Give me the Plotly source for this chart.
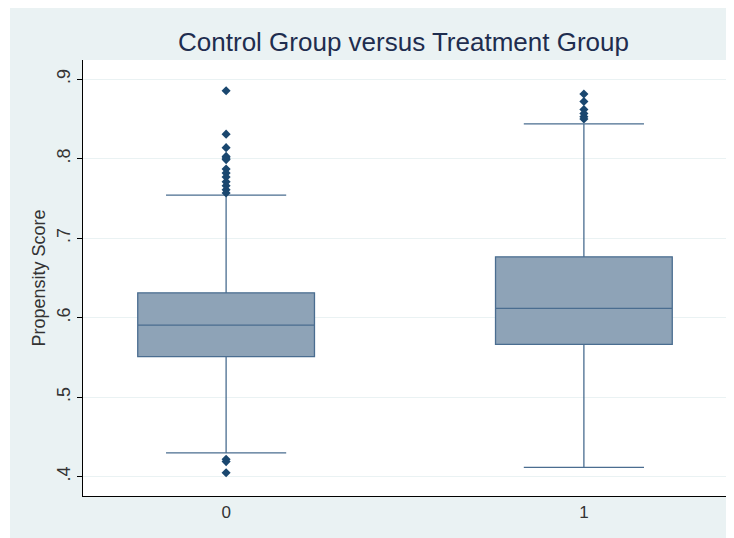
import plotly.graph_objects as go

groups = [0, 1]
q1 = [0.551, 0.5665]
median = [0.5908, 0.6118]
q3 = [0.6314, 0.6767]
lower_whisker = [0.430, 0.4118]
upper_whisker = [0.7543, 0.844]

outliers_0 = [0.8857, 0.831, 0.814, 0.803, 0.801, 0.799, 0.787, 0.782, 0.777,
              0.771, 0.766, 0.761, 0.757, 0.422, 0.419, 0.405]
outliers_1 = [0.8815, 0.872, 0.862, 0.857, 0.853, 0.850]

yticks = [0.4, 0.5, 0.6, 0.7, 0.8, 0.9]
yticklabels = [".4", ".5", ".6", ".7", ".8", ".9"]

BOX_FILL = "#8ea3b7"
BOX_LINE = "#4a6d90"
DOT = "#1a476f"
BG = "#eaf2f3"

W, H = 726, 530
L, R, T, B = 75, 7, 52, 42
PW, PH = W - L - R, H - T - B

fig = go.Figure()
fig.add_trace(go.Box(
    x=groups, q1=q1, median=median, q3=q3,
    lowerfence=lower_whisker, upperfence=upper_whisker,
    fillcolor=BOX_FILL, line=dict(color=BOX_LINE, width=1.3),
    width=0.494, whiskerwidth=0.68, boxpoints=False, showlegend=False,
    hoverinfo="skip",
))
fig.add_trace(go.Scatter(
    x=[groups[0]] * len(outliers_0) + [groups[1]] * len(outliers_1),
    y=outliers_0 + outliers_1,
    mode="markers",
    marker=dict(symbol="diamond", size=7, color=DOT, line=dict(width=0)),
    showlegend=False,
))

fig.update_layout(
    width=W, height=H,
    margin=dict(l=L, r=R, t=T, b=B),
    paper_bgcolor=BG, plot_bgcolor="white",
    font=dict(family="Liberation Sans, Arial, sans-serif", color="#222222"),
    title=dict(text="Control Group versus Treatment Group",
               x=395.5 / W, xanchor="center", y=1 - 34 / H, yanchor="middle",
               font=dict(size=26, color="#1e2d4f")),
    xaxis=dict(range=[-0.4, 1.4], tickvals=groups, ticktext=[str(g) for g in groups],
               showgrid=False, zeroline=False, showline=True, linecolor="black",
               linewidth=1.2, ticks="", tickfont=dict(size=17, color="#333333")),
    yaxis=dict(range=[0.3757, 0.9243], tickvals=yticks, ticktext=yticklabels,
               tickangle=-90, showgrid=True, gridcolor=BG, gridwidth=1,
               zeroline=False, showline=True, linecolor="black", linewidth=1.2,
               ticks="outside", ticklen=5, tickcolor="black",
               tickfont=dict(size=18, color="#333333"),
               title=dict(text="Propensity Score", font=dict(size=18, color="#333333"),
                          standoff=3)),
    shapes=[
        dict(type="rect", xref="paper", yref="paper",
             x0=(0 - L) / PW, x1=(2 - L) / PW,
             y0=-B / PH, y1=(PH + T) / PH,
             fillcolor="white", line=dict(width=0), layer="below"),
    ],
)

fig.write_html("out.html")
